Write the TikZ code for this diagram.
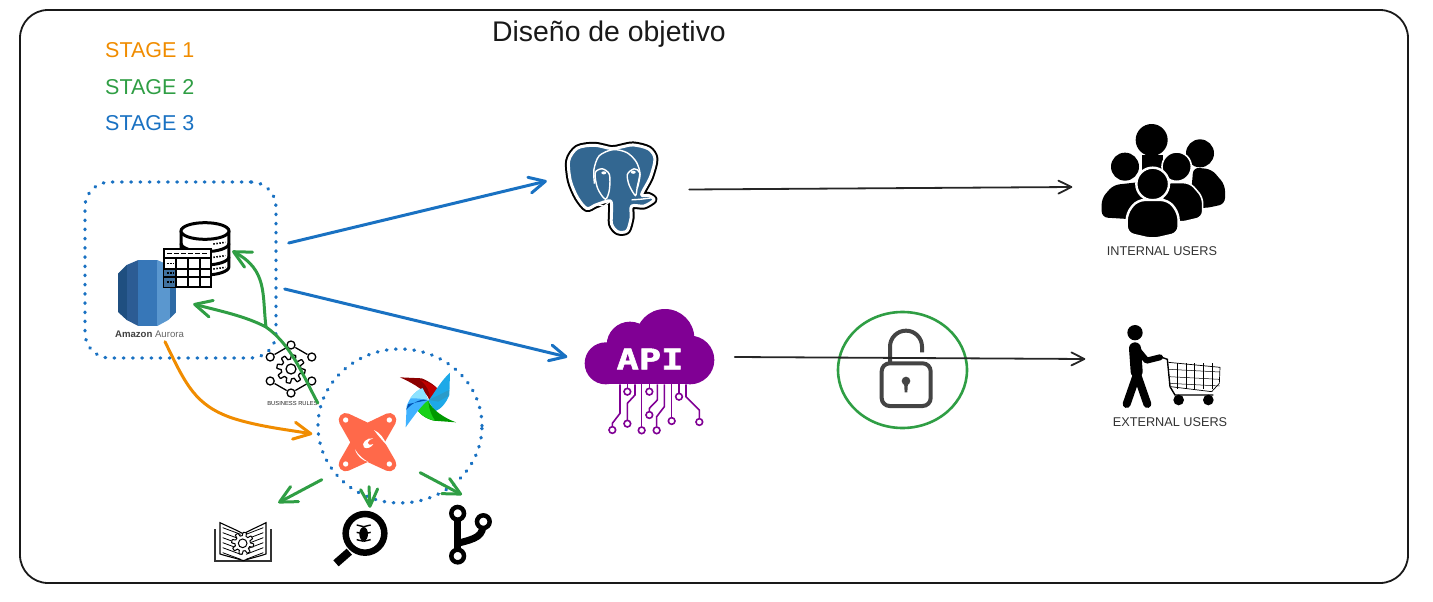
\documentclass[tikz,border=0pt]{standalone}
\usepackage{fontspec}
\setmainfont{Liberation Sans}
\newfontfamily\apifont[BoldFeatures={FakeBold=1.6}]{DejaVu Sans Mono}
\usetikzlibrary{arrows.meta,shapes.geometric}

\definecolor{stageOrange}{HTML}{F08C00}
\definecolor{stageGreen}{HTML}{2F9E44}
\definecolor{stageBlue}{HTML}{1971C2}
\definecolor{pgBlue}{HTML}{336791}
\definecolor{apiPurple}{HTML}{800094}
\definecolor{dbtRed}{HTML}{FF694A}
\definecolor{lockGrey}{HTML}{444444}
\definecolor{auroraA}{HTML}{1F4F80}
\definecolor{auroraB}{HTML}{2C5C94}
\definecolor{auroraC}{HTML}{3777B8}
\definecolor{auroraD}{HTML}{5A97CF}
\definecolor{auroraE}{HTML}{2E6AA5}

\tikzset{
  label/.style n args={2}{inner sep=0pt,text=#1,font=\fontsize{#2}{#2}\selectfont},
  slot/.style 2 args={inner sep=0pt,minimum width=#1,minimum height=#2},
  dottedline/.style={draw=stageBlue,line width=3.4pt,line cap=round,dash pattern=on 0.6pt off 8.6pt},
  sketch/.style={line cap=round,line join=round,-{Straight Barb[length=#1,width=#1,round]}},
  sketch/.default=13pt,
  grearrow/.style={sketch=17pt,stageGreen,line width=3pt},
  bluarrow/.style={sketch=16pt,stageBlue,line width=3pt},
  blkarrow/.style={sketch=13pt,black!85,line width=1.8pt},
  oraarrow/.style={sketch=17pt,stageOrange,line width=3pt}
}

\begin{document}
\begin{tikzpicture}[x=1pt,y=-1pt]
\useasboundingbox (0,0) rectangle (1433,602);

% Frame and title
\node[draw=black!90,line width=1.8pt,rounded corners=28pt,slot={1388}{573}] (frame) at (714,296.5) {};
\node[label={black!90}{28.4}] (title) at (609,34) {Diseño de objetivo};

% Legend
\node[label={stageOrange}{21.5},anchor=west] (stageone) at (105,50) {STAGE 1};
\node[label={stageGreen}{21.5},anchor=west] (stagetwo) at (105,87) {STAGE 2};
\node[label={stageBlue}{21.5},anchor=west] (stagethree) at (105,123) {STAGE 3};

% Slots around the icons
\node[slot={93}{95}] (postgres) at (611.5,189.5) {};
\node[slot={129}{132}] (api) at (650,371) {};
\node[slot={123}{118}] (internal) at (1163,181) {};
\node[slot={97}{82}] (shopper) at (1173,366) {};
\node[slot={59}{66}] (aurora) at (147.5,293) {};
\node[slot={48}{55}] (database) at (205,249.5) {};
\node[slot={58}{40}] (book) at (243,542) {};
\node[slot={51}{57}] (magnifier) at (362.5,538.5) {};
\node[slot={42}{60}] (branch) at (471,535) {};

% Aurora
\begin{scope}[shift={(70,170)},scale=1/3]
  \begin{scope}
    \clip (143,312) -- (170,285) -- (205,270) -- (262,270) -- (295,285) -- (320,312) -- (320,425) -- (295,450) -- (262,468) -- (205,468) -- (170,450) -- (143,425) -- cycle;
    \fill[auroraA] (143,260) rectangle (170,480);
    \fill[auroraB] (170,260) rectangle (205,480);
    \fill[auroraC] (205,260) rectangle (262,480);
    \fill[auroraD] (262,260) rectangle (300,480);
    \fill[auroraE] (300,260) rectangle (320,480);
  \end{scope}
\end{scope}
\node[inner sep=0pt,font=\fontsize{9.6}{10}\selectfont] (auroratext) at (149.5,334) {\textcolor{black!75}{\textbf{Amazon}} \textcolor{black!60}{Aurora}};

% Database cylinder
\begin{scope}[shift={(70,170)},scale=1/3]
  \draw[line width=3pt,fill=white] (333,183) -- (333,290) arc[start angle=180,end angle=0,x radius=72,y radius=25] -- (477,183);
  \draw[line width=3pt,fill=white] (405,183) ellipse[x radius=72,y radius=25];
  \foreach \y in {235,275}
    \draw[line width=3pt] (333,\y-15) arc[start angle=180,end angle=0,x radius=72,y radius=25];
  \foreach \y in {222,262,297}
    \draw[line width=1.6pt,dash pattern=on 1.5pt off 1.5pt] (430,\y) -- (466,\y-5);
  % Table
  \draw[line width=2pt,fill=white] (282,238) rectangle (424,350);
  \fill[stageBlue!70!black!80] (282,296) rectangle (317,350);
  \draw[line width=2pt] (282,265) -- (424,265) (282,296) -- (424,296) (282,322) -- (424,322);
  \foreach \x in {317,353,389}
    \draw[line width=2pt] (\x,265) -- (\x,350);
  \draw[line width=1.4pt,dash pattern=on 5pt off 2pt] (292,251) -- (416,251);
  \foreach \y in {281,309,336}
    \draw[line width=1.4pt,dash pattern=on 2pt off 1pt] (290,\y) -- (309,\y);
\end{scope}

% Dotted groups
\node[dottedline,rounded corners=25pt,slot={191}{176}] (storage) at (180.5,270) {};
\node[dottedline,ellipse,slot={164}{154}] (dbtring) at (400,426) {};

% Business rules
\begin{scope}[shift={(291,369)}]
  \draw[line width=1.3pt,line join=round] plot[domain=0:360,samples=193] (\x:{12+2.2*max(-1,min(1,2.5*sin(8*\x)))}) -- cycle;
  \draw[line width=1.3pt] (0,0) circle (5);
  \foreach \a/\b in {30/90,90/150,210/270,270/330}
    \draw[line width=1.3pt,shorten >=5pt,shorten <=5pt] (\a:24) -- (\b:24);
  \foreach \a in {30,90,150,210,270,330}
    \draw[line width=1.3pt,fill=white] (\a:24) circle (4);
\end{scope}
\node[label={black!85}{5.8}] (rules) at (292.5,403) {BUSINESS RULES};

% dbt
\begin{scope}[shift={(200,330)},scale=1/3]
  \draw[dbtRed,fill=dbtRed,line width=14pt,line join=round] (437,270) -- (503,301) -- (568,270) -- (530,337) -- (568,403) -- (503,373) -- (437,403) -- (475,337) -- cycle;
  \foreach \x/\y in {437/270,568/270,437/402,568/402}
    \fill[white] (\x,\y) circle (8);
  \fill[white] (522,300) .. controls (540,308) and (552,325) .. (560,345) .. controls (548,332) and (535,318) .. cycle;
  \fill[white] (465,358) .. controls (475,375) and (490,388) .. (505,396) .. controls (488,392) and (472,380) .. cycle;
  \fill[white] (520,325) .. controls (500,322) and (482,340) .. (492,352) .. controls (500,358) and (515,352) .. (520,342) .. controls (510,346) and (502,344) .. (503,338) .. controls (505,330) and (512,328) .. cycle;
\end{scope}

% Airflow
\begin{scope}[shift={(200,330)},scale=1/3]
  \fill[red!55!black] (600,142) -- (665,145) .. controls (690,155) and (710,170) .. (720,185) -- (715,198) -- (688,210) .. controls (680,185) and (650,165) .. cycle;
  \fill[red!75!black] (660,150) .. controls (690,158) and (710,172) .. (720,185) -- (715,198) -- (690,206) .. controls (690,185) and (680,165) .. cycle;
  \fill[cyan!90!blue!90!white] (750,128) -- (748,195) .. controls (738,220) and (722,238) .. (705,244) -- (685,212) .. controls (700,195) and (720,155) .. cycle;
  \fill[cyan!80!black] (685,210) -- (748,180) -- (745,198) -- (715,215) -- cycle;
  \fill[green!60!black] (768,277) -- (700,272) .. controls (675,265) and (655,250) .. (648,232) -- (655,220) -- (685,212) .. controls (695,240) and (735,265) .. cycle;
  \fill[green!80!black!90] (648,232) -- (655,220) -- (685,212) .. controls (685,235) and (695,258) .. (705,272) .. controls (675,265) and (655,250) .. cycle;
  \fill[blue!40!cyan!75] (617,292) -- (620,228) .. controls (630,200) and (650,180) .. (668,175) -- (685,210) .. controls (665,225) and (640,260) .. cycle;
  \fill[blue!55!cyan!70!black] (618,240) .. controls (640,215) and (665,205) .. (685,210) -- (625,222) -- cycle;
  \fill[blue!25!cyan!45] (630,205) .. controls (645,185) and (660,175) .. (668,175) -- (685,210) .. controls (665,205) and (645,205) .. cycle;
\end{scope}

% Book
\begin{scope}[shift={(200,330)},scale=1/3]
  \draw[line width=1.5pt,black!80] (45,597) -- (45,693) -- (213,693) -- (213,597);
  \draw[line width=1.1pt,fill=white] (60,578) .. controls (85,590) and (110,600) .. (130,612) .. controls (150,600) and (175,590) .. (198,578) -- (198,672) .. controls (175,680) and (150,685) .. (130,692) .. controls (110,685) and (85,680) .. (60,672) -- cycle;
  \foreach \y in {0,15,30,45,60,75} {
    \draw[line width=.8pt] (68,593+\y) -- (122,613+\y);
    \draw[line width=.8pt] (190,593+\y) -- (138,613+\y);
  }
  \draw[line width=1pt,fill=white,shift={(128,640)}] plot[domain=0:360,samples=193] (\x:{28+5*max(-1,min(1,2.5*sin(8*\x)))}) -- cycle;
  \draw[line width=1pt] (128,640) circle (13);
\end{scope}

% Magnifier with bug
\begin{scope}[shift={(200,330)},scale=1/3]
  \draw[line width=8pt] (448,665) -- (408,700);
  \draw[line width=6.5pt,fill=white] (495,610) circle (58);
  \fill (491,612) ellipse[x radius=13,y radius=21];
  \foreach \a/\b in {470/590,470/612,470/634,512/590,512/612,512/634}
    \draw[line width=1.4pt] (491,\b) -- (\a,\b-5);
\end{scope}

% Branch
\begin{scope}[shift={(200,330)},scale=1/3]
  \draw[line width=7pt] (773,550) -- (773,678);
  \draw[line width=7pt] (773,640) .. controls (830,625) and (850,620) .. (850,575);
  \foreach \x/\y in {773/550,773/678,850/575}
    \draw[line width=4.5pt,fill=white] (\x,\y) circle (19);
\end{scope}

% Postgres
\begin{scope}[shift={(554.2,134.1)},scale=0.31]
  \def\elephant{(185,47) (130,36) (75,45) (47,85) (52,150) (75,205) (105,240) (135,228) (180,215) (185,240) (185,290) (205,315) (235,312) (248,270) (250,232) (290,232) (322,212) (305,198) (282,195) (310,140) (325,80) (305,48) (255,35) (215,42)}
  \draw[black,line width=7pt,line join=round] plot[smooth cycle] coordinates {\elephant};
  \draw[white,line width=3pt,fill=pgBlue,line join=round] plot[smooth cycle] coordinates {\elephant};
  \draw[white,line width=1.4pt] plot[smooth] coordinates {(130,160) (128,115) (145,70) (190,50) (235,60) (265,90) (277,130) (268,175)};
  \draw[white,line width=1.4pt] plot[smooth cycle] coordinates {(132,125) (155,112) (178,130) (178,180) (165,210) (140,175)};
  \draw[white,line width=1.4pt] plot[smooth cycle] coordinates {(236,130) (258,112) (276,125) (268,170) (262,198) (242,165)};
  \draw[white,line width=1.4pt] plot[smooth] coordinates {(135,225) (160,232) (180,215)};
  \draw[white,line width=1.4pt] plot[smooth] coordinates {(250,212) (280,210) (318,205)};
  \fill[white] (160,125) ellipse[x radius=8,y radius=5];
  \fill[white] (255,123) ellipse[x radius=8,y radius=5];
\end{scope}

% API cloud
\begin{scope}[shift={(570,295)},scale=1/3]
  \fill[apiPurple] (105,148) rectangle (375,268);
  \fill[apiPurple] (107,205) circle (63);
  \fill[apiPurple] (285,130) circle (88);
  \fill[apiPurple] (180,150) circle (70);
  \fill[apiPurple] (360,195) circle (73);
  \foreach \p in {{(150,268) (150,355) (127,385) (127,395)},{(195,268) (195,300) (172,325) (172,375)},{(215,268) (215,395)},{(262,268) (262,315) (238,340) (238,350)},{(283,268) (283,335) (260,365) (260,395)},{(305,268) (305,368)},{(348,268) (348,305) (388,345) (388,370)},{(172,268) (172,280)},{(238,268) (238,280)},{(327,268) (327,295)}}
    \draw[apiPurple,line width=1.6pt] plot coordinates {\p};
  \foreach \x/\y in {127/405,172/290,172/386,215/406,238/290,238/360,260/406,305/378,327/305,388/381}
    \draw[apiPurple,line width=1.6pt,fill=white] (\x,\y) circle (10);
\end{scope}
\node[inner sep=0pt,text=white,xscale=1.3,font=\apifont\bfseries\fontsize{28.5}{28}\selectfont] (apitext) at (650,359) {API};

% Lock
\node[draw=stageGreen,line width=2.6pt,ellipse,slot={129}{116}] (lockring) at (902.5,370) {};
\begin{scope}[shift={(820,300)},scale=1/3]
  \draw[lockGrey,line width=4pt,rounded corners=8pt] (185,190) rectangle (332,318);
  \draw[lockGrey,line width=4pt] (210,188) -- (210,140) arc[start angle=180,end angle=360,x radius=48,y radius=48] -- (306,157);
  \fill[lockGrey] (258,243) circle (13);
  \fill[lockGrey] (252,245) -- (264,245) -- (262,277) -- (254,277) -- cycle;
\end{scope}

% Internal users
\begin{scope}[shift={(1080,110)},scale=1/3]
  \fill (215,90) circle (48);
  \fill (185,135) rectangle (250,200);
  \fill (360,130) circle (42);
  \fill[rounded corners=6pt] (340,172) -- (395,178) -- (435,225) -- (435,282) -- (375,295) -- (330,290) -- cycle;
  \fill (135,170) circle (42);
  \fill[rounded corners=6pt] (65,322) -- (65,265) -- (100,225) -- (190,215) -- (190,330) -- cycle;
  \draw[white,line width=1.6pt,fill=black] (290,170) circle (44);
  \draw[white,line width=1.6pt,fill=black,rounded corners=6pt] (255,218) -- (330,218) -- (368,262) -- (368,322) -- (300,338) -- (240,320) -- cycle;
  \draw[white,line width=2.4pt,fill=black] (218,222) circle (49);
  \draw[white,line width=2.4pt,fill=black,rounded corners=7pt] (140,370) -- (140,310) -- (172,270) -- (265,270) -- (296,310) -- (296,370) -- (218,388) -- cycle;
\end{scope}
\node[label={black!80}{12.7}] (internaltext) at (1162,251) {INTERNAL USERS};

% External users
\begin{scope}[shift={(1080,110)},scale=1/3]
  \fill (165,668) circle (23);
  \draw[line width=12pt,line cap=round] (165,715) -- (170,785);
  \draw[line width=8pt,line cap=round,line join=round] (172,790) -- (140,882);
  \draw[line width=8pt,line cap=round,line join=round] (170,790) -- (202,882);
  \draw[line width=6pt,line cap=round,line join=round] (172,718) -- (200,752) -- (240,742);
  \draw[line width=1.4pt] (240,740) -- (262,748) -- (270,830) -- (285,855) -- (400,855);
  \draw[line width=.7pt,line join=round] (265,757) -- (420,772) -- (418,820) -- (395,845) -- (272,830);
  \foreach \x in {292,318,344,370,396}
    \draw[line width=.5pt] (\x,760) -- (\x,838);
  \foreach \y in {778,800,820}
    \draw[line width=.5pt] (267,\y) -- (419,\y+8);
  \fill (296,870) circle (16);
  \fill (385,870) circle (16);
\end{scope}
\node[label={black!80}{12.7}] (externaltext) at (1170,422) {EXTERNAL USERS};

% Stage 3 arrows
\draw[bluarrow] ([xshift=11pt,yshift=27pt]storage.east) -- ([xshift=-18pt,yshift=8.5pt]postgres.west);
\draw[bluarrow] ([xshift=7pt,yshift=-19pt]storage.east) -- ([xshift=-18pt,yshift=14pt]api.west);

% Users arrows
\draw[blkarrow] ([xshift=31pt]postgres.east) -- ([xshift=-29pt,yshift=-6pt]internal.west);
\draw[blkarrow] ([xshift=20pt,yshift=14pt]api.east) -- ([xshift=-39pt,yshift=7pt]shopper.west);

% Stage 1 arrow
\draw[oraarrow] ([xshift=-15.5pt,yshift=18pt]storage.south) .. controls (186,385) and (195,405) .. (232,418) .. controls (260,427) and (290,430) .. ([xshift=-4pt,yshift=-8pt]dbtring.west);

% Stage 2 arrows
\coordinate (split) at (266,327);
\draw[grearrow] (rules.east) .. controls (305,380) and (292,345) .. (split) .. controls (245,316) and (220,311) .. ([xshift=16pt,yshift=-11pt]aurora.east);
\draw[grearrow] (split) .. controls (262,295) and (268,270) .. ([xshift=3pt,yshift=-1.5pt]database.east);
\draw[grearrow] ([xshift=-19pt,yshift=2pt]dbtring.south west) -- ([xshift=6pt,yshift=19pt]book.north east);
\draw[grearrow] ([xshift=-31pt,yshift=18pt]dbtring.south) -- ([xshift=7.5pt,yshift=2pt]magnifier.north);
\draw[grearrow] ([xshift=-39pt,yshift=9pt]dbtring.south east) -- ([xshift=-9pt,yshift=10pt]branch.north);

\end{tikzpicture}
\end{document}
